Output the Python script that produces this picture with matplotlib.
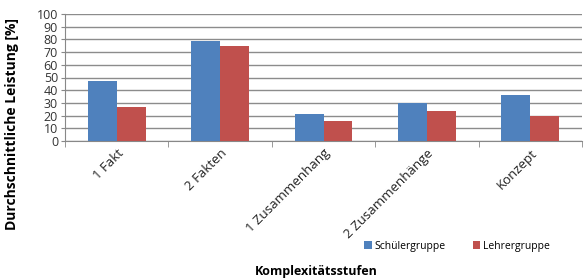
import numpy as np
import matplotlib
matplotlib.use("Agg")
import matplotlib.pyplot as plt

categories = ["1 Fakt", "2 Fakten", "1 Zusammenhang", "2 Zusammenhänge", "Konzept"]
schueler = [47, 79, 21, 30, 36]
lehrer = [27, 75, 16, 24, 20]
series_names = ["Schülergruppe", "Lehrergruppe"]

plt.rcParams['font.family'] = ['Open Sans', 'DejaVu Sans']

fig = plt.figure(figsize=(5.84, 2.78), dpi=100)
ax = fig.add_axes([65 / 584, 1 - 141 / 278, 517 / 584, 127 / 278])

x = np.arange(len(categories))
w = 0.28
ax.bar(x - w / 2, schueler, w, color="#4F81BD", label=series_names[0], zorder=3)
ax.bar(x + w / 2, lehrer, w, color="#C0504D", label=series_names[1], zorder=3)

ax.set_xlim(-0.5, len(categories) - 0.5)
ax.set_ylim(0, 100)
ax.set_yticks(range(0, 101, 10))
ax.tick_params(axis='y', labelsize=9, length=3, color="#888888", pad=2, labelcolor="#333333")
ax.yaxis.grid(True, color="#8c8c8c", linewidth=1.0, zorder=0)

ax.set_xticks(x)
ax.set_xticklabels(categories, rotation=45, ha='right', rotation_mode='anchor', fontsize=9.5, color="#222222")
ax.tick_params(axis='x', length=0, pad=4)
ax.set_xticks(np.arange(-0.5, len(categories)), minor=True)
ax.tick_params(axis='x', which='minor', length=4, color="#888888")

for s in ["top", "right"]:
    ax.spines[s].set_visible(False)
ax.spines["left"].set_color("#888888")
ax.spines["bottom"].set_color("#888888")

fig.text(12 / 584, 1 - 124 / 278, "Durchschnittliche Leistung [%]", rotation=90,
         ha='center', va='center', fontsize=10, fontweight='bold')
fig.text(316 / 584, 1 - 271 / 278, "Komplexitätsstufen", ha='center', va='center',
         fontsize=9, fontweight='bold')

fig.legend(loc='center left', bbox_to_anchor=(355 / 584, 1 - 246 / 278), ncol=2, frameon=False,
           fontsize=7.5, handlelength=0.7, handleheight=0.7, handletextpad=0.3, columnspacing=2.6)

fig.savefig("out.png", dpi=100)
